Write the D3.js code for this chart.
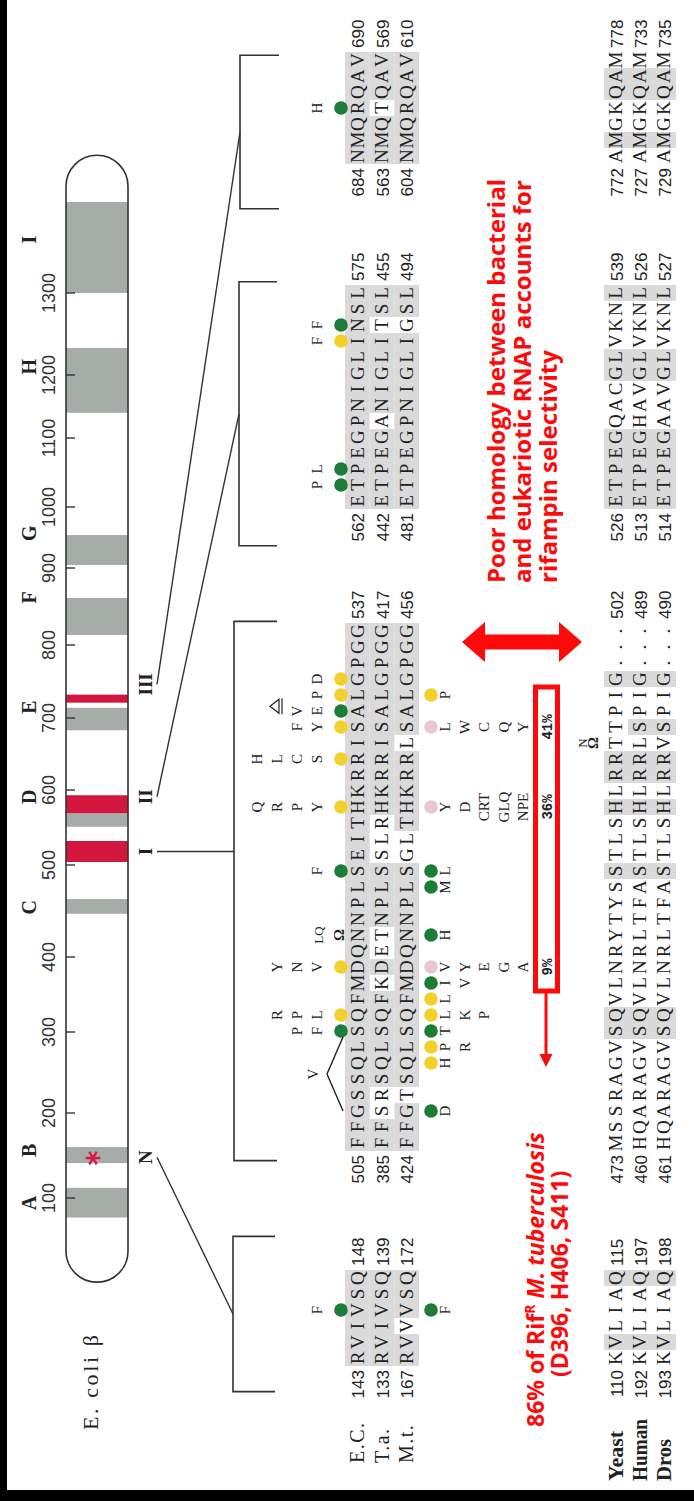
<!DOCTYPE html>
<html><head><meta charset="utf-8">
<script src="https://cdn.jsdelivr.net/npm/d3@7"></script>
<style>html,body{margin:0;padding:0;background:#fff;}svg{display:block;}</style>
</head><body>
<svg id="fig" width="694" height="1501"></svg>
<script>
// ---------------- data ----------------
// E. coli beta subunit map (residue numbers)
const tickValues = [100,200,300,400,500,600,700,800,900,1000,1100,1200,1300];
const proteinSpan = [1, 1468];
const regionNames   = ['A','B','C','D','E','F','G','H','I'];
const regionStart   = [77, 141, 447, 551, 683, 813, 905, 1140, 1300];
const regionEnd     = [112, 160, 463, 569, 714, 861, 954, 1233, 1411];
const regionLabelAt = [94, 156, 454, 591, 715, 862, 957, 1210, 1365];
const clusterStart  = [504, 569, 721];
const clusterEnd    = [532, 593, 732];
const asteriskAt    = [147];

// alignment blocks (N, I, II, III)
const blockNames   = ['N','I','II','III'];
const blockLabelAt = [148, 518, 591, 746];
const bracketFrom  = [140.9, 503.9, 559.2, 680.7];
const bracketTo    = [150.6, 537.6, 575.7, 690.3];

const upperRows = ['E.C.','T.a.','M.t.'];
const seqEc = ['RVIVSQ','FFGSSQLSQFMDQNNPLSEITHKRRISALGPGG','ETPEGPNIGLINSL','NMQRQAV'];
const seqTa = ['RVIVSQ','FFSRSQLSQFKDETNPLSSLRHKRRISALGPGG','ETPEGANIGLITSL','NMQTQAV'];
const seqMt = ['RVVVSQ','FFGTSQLSQFMDQNNPLSGLTHKRRLSALGPGG','ETPEGPNIGLIGSL','NMQRQAV'];
const startEc = [143, 505, 562, 684], endEc = [148, 537, 575, 690];
const startTa = [133, 385, 442, 563], endTa = [139, 417, 455, 569];
const startMt = [167, 424, 481, 604], endMt = [172, 456, 494, 610];

const lowerRows = ['Yeast','Human','Dros'];
const seqYeast = ['KVLIAQ','MSSRAGVSQVLNRYTYSSTLSHLRRTTPIG...','ETPEGQACGLVKNL','AMGKQAM'];
const seqHuman = ['KVLIAQ','HQARAGVSQVLNRLTFASTLSHLRRLSPIG...','ETPEGHAVGLVKNL','AMGKQAM'];
const seqDros  = ['KVLIAQ','HQARAGVSQVLNRLTFASTLSHLRRVSPIG...','ETPEGAAVGLVKNL','AMGKQAM'];
const startYeast = [110, 473, 526, 772], endYeast = [115, 502, 539, 778];
const startHuman = [192, 460, 513, 727], endHuman = [197, 489, 526, 733];
const startDros  = [193, 461, 514, 729], endDros  = [198, 490, 527, 735];

// substitutions (E. coli numbering); g = green, y = yellow, p = pink
const ecSites = [146, 512, 513, 516, 522, 526, 529, 531, 532, 533, 534, 563, 564, 572, 573, 687];
const ecKinds = ['g','g','y','y','g','y','y','y','g','y','y','g','g','y','g','g'];
const ecSubs  = ['F','F P','L P R','V N Y','F','Y P R Q','S C L H','Y F','E V','P','D','P','L','F','F','H'];
const mtSites = [146, 507, 510, 511, 512, 513, 514, 515, 516, 518, 521, 522, 526, 531, 533];
const mtKinds = ['g','g','y','y','g','y','y','g','p','g','g','g','p','p','y'];
const mtSubs  = ['F','D','H','P R','T','L K P','L','I V','V Y E G A','H','M','L','Y D CRT GLQ NPE','L W C Q Y','P'];

// insertion / deletion marks
const insertSites = [518, 530];
const insertText  = ['LQ', 'N'];
const deletionSpan = [507, 511];
const deletionText = ['V'];
const smallTriangleAt = [532.3];

// share of resistant M. tuberculosis isolates at the three main sites
const pctSites  = [516, 526, 531];
const pctValues = [9, 36, 41];
const boxSpan   = [515, 533];

// ---------------- drawing ----------------
const W = 694, H = 1501;
const svg = d3.select('#fig');
svg.append('rect').attr('width', W).attr('height', H).attr('fill', '#fff');
const defs = svg.append('defs');
// whole figure is laid out horizontally and turned a quarter turn
const g = svg.append('g').attr('transform', `translate(0,${H}) rotate(-90)`);

const ink = '#222';
const mono = "'Liberation Mono','DejaVu Sans Mono',monospace";
const sans = "'Liberation Sans',Arial,sans-serif";
const serif = "'Liberation Serif','Times New Roman',serif";
const redFont = "'Open Sans','Noto Sans',sans-serif";
const red = '#ff0a0a';

// residue -> position along the protein bar
const uRes = d3.scaleLinear().domain(tickValues)
  .range([303,388,469,544,636,711,783,856,933,994,1063,1126,1208]);

const barTop = 66, barBottom = 128, barR = (barBottom - barTop) / 2;
const barX0 = uRes(proteinSpan[0]), barX1 = uRes(proteinSpan[1]);
defs.append('clipPath').attr('id', 'barClip').append('rect')
  .attr('x', barX0).attr('y', barTop).attr('width', barX1 - barX0)
  .attr('height', barBottom - barTop).attr('rx', barR).attr('ry', barR);

g.append('rect').attr('x', barX0).attr('y', barTop).attr('width', barX1 - barX0)
  .attr('height', barBottom - barTop).attr('rx', barR).attr('ry', barR).attr('fill', '#fff');

const barInner = g.append('g').attr('clip-path', 'url(#barClip)');
barInner.selectAll('rect.region').data(regionNames).join('rect').attr('class', 'region')
  .attr('x', (d, i) => uRes(regionStart[i])).attr('y', barTop)
  .attr('width', (d, i) => uRes(regionEnd[i]) - uRes(regionStart[i]))
  .attr('height', barBottom - barTop).attr('fill', '#a6aca8');
barInner.selectAll('rect.cluster').data(clusterStart).join('rect').attr('class', 'cluster')
  .attr('x', (d, i) => uRes(d)).attr('y', barTop)
  .attr('width', (d, i) => uRes(clusterEnd[i]) - uRes(d))
  .attr('height', barBottom - barTop).attr('fill', '#d3163e');

g.append('rect').attr('x', barX0).attr('y', barTop).attr('width', barX1 - barX0)
  .attr('height', barBottom - barTop).attr('rx', barR).attr('ry', barR)
  .attr('fill', 'none').attr('stroke', '#333').attr('stroke-width', 1.6);

// ticks on the bar
g.selectAll('line.tick').data(tickValues).join('line').attr('class', 'tick')
  .attr('x1', d => uRes(d)).attr('x2', d => uRes(d))
  .attr('y1', barTop).attr('y2', barTop + 9).attr('stroke', '#333').attr('stroke-width', 1.4);
g.selectAll('text.tickLabel').data(tickValues).join('text').attr('class', 'tickLabel')
  .attr('x', d => uRes(d)).attr('y', 55).attr('text-anchor', 'middle')
  .attr('font-family', sans).attr('font-size', 18).attr('fill', '#333').text(d => d);
g.selectAll('text.regionLabel').data(regionNames).join('text').attr('class', 'regionLabel')
  .attr('x', (d, i) => uRes(regionLabelAt[i])).attr('y', 36).attr('text-anchor', 'middle')
  .attr('font-family', serif).attr('font-weight', 'bold').attr('font-size', 20).attr('fill', ink).text(d => d);

// asterisk in region B
g.selectAll('path.star').data(asteriskAt).join('path').attr('class', 'star')
  .attr('transform', d => `translate(${uRes(d)},${(barTop + barBottom) / 2 - 4})`)
  .attr('d', d3.symbol(d3.symbolAsterisk, 150)).attr('fill', 'none')
  .attr('stroke', '#d81b45').attr('stroke-width', 2.4);

g.append('text').attr('x', 71).attr('y', 98).attr('font-family', serif).attr('font-size', 22)
  .attr('letter-spacing', 2.6).attr('fill', ink).text('E. coli β');

// alignment columns
const pitch = 16;
const blockU0 = [143, 358, 1000, 1345];
const colScales = startEc.map((s, b) => d3.scaleLinear().domain([s, s + 1]).range([blockU0[b], blockU0[b] + pitch]));
function blockOf(res) { return startEc.findIndex((s, k) => res >= s - 4 && res <= endEc[k] + 4); }
function siteU(res) { return colScales[blockOf(res)](res); }

// brackets and leader lines
const spineV = [233, 234, 239, 240], armV = [275, 277, 277, 279];
const joinAtLabel = [false, true, false, false];
blockNames.forEach((name, b) => {
  const u0 = colScales[b](bracketFrom[b]), u1 = colScales[b](bracketTo[b]);
  g.append('path').attr('d', `M${u0},${armV[b]}V${spineV[b]}H${u1}V${armV[b]}`)
    .attr('fill', 'none').attr('stroke', '#333').attr('stroke-width', 1.6);
  const lu = uRes(blockLabelAt[b]);
  const ju = joinAtLabel[b] ? lu : (u0 + u1) / 2;
  g.append('line').attr('x1', lu).attr('y1', 157).attr('x2', ju).attr('y2', spineV[b])
    .attr('stroke', '#333').attr('stroke-width', 1.4);
  g.append('text').attr('x', lu).attr('y', 152).attr('text-anchor', 'middle')
    .attr('font-family', serif).attr('font-weight', 'bold').attr('font-size', 19)
    .attr('fill', ink).text(name);
});

const upperBand = d3.scaleBand().domain(upperRows).range([345, 419]);
const lowerBand = d3.scaleBand().domain(lowerRows).range([604, 676]);
const upperSeqs = [seqEc, seqTa, seqMt];
const lowerSeqs = [seqYeast, seqHuman, seqDros];
const upperStarts = [startEc, startTa, startMt], upperEnds = [endEc, endTa, endMt];
const lowerStarts = [startYeast, startHuman, startDros], lowerEnds = [endYeast, endHuman, endDros];

function drawGroup(rows, seqs, starts, ends, band, shadeRule, labelU, labelFont) {
  const bw = band.bandwidth();
  rows.forEach((row, r) => {
    const rowY = band(row), cy = rowY + bw / 2;
    seqEc.forEach((ref, b) => {
      const cs = colScales[b];
      const chars = seqs[r][b].split('');
      chars.forEach((ch, i) => {
        const u = cs(startEc[b] + i);
        if (ch !== '.' && shadeRule(r, b, i, ch)) {
          g.append('rect').attr('x', u - pitch / 2).attr('y', rowY).attr('width', pitch)
            .attr('height', bw).attr('fill', '#dadada');
        }
      });
      chars.forEach((ch, i) => {
        const u = cs(startEc[b] + i);
        g.append('text').attr('x', u).attr('y', cy + 6.3).attr('text-anchor', 'middle')
          .attr('font-family', serif).attr('font-size', 19).attr('fill', ink).text(ch);
      });
      g.append('text').attr('x', cs(startEc[b]) - pitch / 2 - 4).attr('y', cy + 6.5)
        .attr('text-anchor', 'end').attr('font-family', sans).attr('font-size', 17)
        .attr('fill', ink).text(starts[r][b]);
      g.append('text').attr('x', cs(startEc[b] + chars.length - 1) + pitch / 2 + 4).attr('y', cy + 6.5)
        .attr('text-anchor', 'start').attr('font-family', sans).attr('font-size', 17)
        .attr('fill', ink).text(ends[r][b]);
    });
    labelFont(g.append('text').attr('x', labelU).attr('y', cy + 6.5).text(row), r);
  });
}

drawGroup(upperRows, upperSeqs, upperStarts, upperEnds, upperBand,
  (r, b, i, ch) => r === 0 || ch === seqEc[b][i], 38,
  (t) => t.attr('font-family', serif).attr('font-size', 20).attr('letter-spacing', 1.5).attr('fill', ink));
const lowerLen = [50, 62, 42];
drawGroup(lowerRows, lowerSeqs, lowerStarts, lowerEnds, lowerBand,
  (r, b, i, ch) => ch === seqEc[b][i], 20,
  (t, r) => t.attr('font-family', serif).attr('font-weight', 'bold').attr('font-size', 21)
    .attr('textLength', lowerLen[r]).attr('lengthAdjust', 'spacingAndGlyphs').attr('fill', ink));

// substitution dots and letters
const dotColor = { g: '#1c7d3b', y: '#f3d12c', p: '#e6c7d4' };
const aboveStack = d3.scaleLinear().domain([0, 1]).range([317, 297]);
const belowStack = d3.scaleLinear().domain([0, 1]).range([445, 464.5]);
function drawSubs(sites, kinds, subs, dotV, stack) {
  sites.forEach((s, k) => {
    const u = siteU(s);
    g.append('circle').attr('cx', u).attr('cy', dotV).attr('r', 6.8).attr('fill', dotColor[kinds[k]]);
    subs[k].split(' ').forEach((aa, j) => {
      g.append('text').attr('x', u).attr('y', stack(j) + 5).attr('text-anchor', 'middle')
        .attr('font-family', serif).attr('font-size', 15).attr('fill', ink).text(aa);
    });
  });
}
drawSubs(ecSites, ecKinds, ecSubs, 341, aboveStack);
drawSubs(mtSites, mtKinds, mtSubs, 431, belowStack);

// insertion marks (Omega) with inserted residues
const omegaV = [339, 593], insTextV = [318, 582];
insertSites.forEach((s, k) => {
  const u = siteU(s);
  g.append('text').attr('x', u).attr('y', omegaV[k] + 5).attr('text-anchor', 'middle')
    .attr('font-family', serif).attr('font-weight', 'bold').attr('font-size', 15).attr('fill', ink).text('Ω');
  g.append('text').attr('x', u).attr('y', insTextV[k] + 4.5).attr('text-anchor', 'middle')
    .attr('font-family', serif).attr('font-size', 13).attr('fill', ink).text(insertText[k]);
});

// deletion caret
{
  const u0 = siteU(deletionSpan[0]), u1 = siteU(deletionSpan[1]) + 10, um = (u0 + u1) / 2;
  g.append('path').attr('d', `M${u0},343L${um},327L${u1},343`).attr('fill', 'none')
    .attr('stroke', ink).attr('stroke-width', 1.4);
  g.append('text').attr('x', um).attr('y', 318).attr('text-anchor', 'middle')
    .attr('font-family', serif).attr('font-size', 15).attr('fill', ink).text(deletionText[0]);
}
smallTriangleAt.forEach(s => {
  const u = siteU(s);
  g.append('path').attr('d', `M${u},270L${u + 7},279L${u - 7},279Z M${u - 8},282H${u + 8}`)
    .attr('fill', 'none').attr('stroke', ink).attr('stroke-width', 1.2);
});

// red call-outs
const boxU0 = siteU(boxSpan[0]) - pitch / 2, boxU1 = siteU(boxSpan[1]) + pitch / 2;
g.append('rect').attr('x', boxU0).attr('y', 535.5).attr('width', boxU1 - boxU0).attr('height', 22)
  .attr('fill', 'none').attr('stroke', red).attr('stroke-width', 5);
pctSites.forEach((s, k) => {
  g.append('text').attr('x', siteU(s)).attr('y', 552).attr('text-anchor', 'middle')
    .attr('font-family', mono).attr('font-weight', 'bold').attr('font-size', 14)
    .attr('fill', ink).text(pctValues[k] + '%');
});
g.append('line').attr('x1', boxU0).attr('x2', 446).attr('y1', 546).attr('y2', 546)
  .attr('stroke', red).attr('stroke-width', 3);
g.append('path').attr('d', 'M434,546L447,539.5L447,552.5Z').attr('fill', red);

// double-headed arrow
g.append('path').attr('d', 'M859,462L879,485L866.5,485L866.5,559L879,559L859,582L839,559L851.5,559L851.5,485L839,485Z')
  .attr('fill', red);

const t1 = g.append('text').attr('font-family', redFont).attr('font-weight', 700).attr('fill', red).attr('font-size', 23);
t1.append('tspan').attr('x', 74).attr('y', 544).text('86% of Rif');
t1.append('tspan').attr('font-size', 14).attr('dy', -9).text('R');
t1.append('tspan').attr('dy', 9).text(' ');
t1.append('tspan').attr('font-style', 'italic').text('M. tuberculosis');
g.append('text').attr('x', 124).attr('y', 568).attr('font-family', redFont).attr('font-weight', 700)
  .attr('fill', red).attr('font-size', 23).text('(D396, H406, S411)');

const note = ['Poor homology between bacterial', 'and eukariotic RNAP accounts for', 'rifampin selectivity'];
note.forEach((line, i) => {
  g.append('text').attr('x', 918).attr('y', 505 + 26 * i).attr('font-family', redFont)
    .attr('font-weight', 700).attr('font-size', 24).attr('fill', red).text(line);
});

// dark edges of the scan
svg.append('rect').attr('x', 0).attr('y', 0).attr('width', 7).attr('height', H).attr('fill', '#000');
svg.append('rect').attr('x', 0).attr('y', 1490).attr('width', W).attr('height', 11).attr('fill', '#000');
</script>
</body></html>
